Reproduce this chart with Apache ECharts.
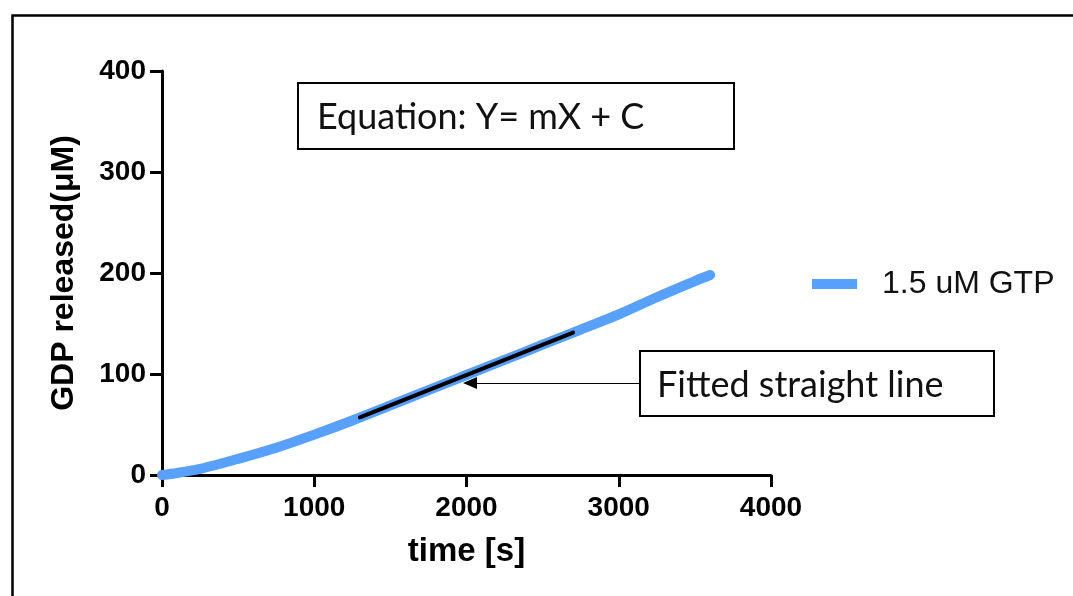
<!DOCTYPE html>
<html>
<head>
<meta charset="utf-8">
<title>GDP released</title>
<script src="https://cdn.jsdelivr.net/npm/echarts@6/dist/echarts.min.js"></script>
<style>
  html, body { margin: 0; padding: 0; background: #fff; }
  #main { width: 1073px; height: 596px; }
</style>
</head>
<body>
<div id="main"></div>
<script>
// time points [s] and GDP released [uM]
var times = [0, 100, 250, 500, 750, 1000, 1250, 1500, 1750, 2000, 2250, 2500, 2750, 3000, 3250, 3500, 3600];
var gdp = [0, 2, 6, 16, 27, 40, 54, 69, 84, 99, 114, 129, 144, 159, 176, 192, 198];
// fitted straight line end points
var fitX = [1300, 2700];
var fitY = [57, 141];
// arrow from the label box towards the fit
var arrowFrom = [3133, 91];
var arrowTo = [2023, 91];
var seriesName = "1.5 uM GTP";
var xTicks = { min: 0, max: 4000, step: 1000 };
var yTicks = { min: 0, max: 400, step: 100 };

var curve = [];
for (var i = 0; i < times.length; i++) {
  curve.push([times[i], gdp[i]]);
}
var fit = [[fitX[0], fitY[0]], [fitX[1], fitY[1]]];

var myChart = echarts.init(document.getElementById("main"));

var axisFont = { fontFamily: "Liberation Sans", fontWeight: "bold", fontSize: 28, color: "#000" };
var plain = function(v) { return String(v); };

var option = {
  animation: false,
  backgroundColor: "#fff",
  grid: {
    left: 162,
    right: 302,
    top: 71,
    bottom: 121,
    outerBoundsMode: "none"
  },
  legend: {
    left: 812,
    top: 268,
    padding: 0,
    icon: "rect",
    itemWidth: 45,
    itemHeight: 10,
    data: [seriesName],
    textStyle: {
      fontFamily: "Liberation Sans",
      fontSize: 32,
      color: "#111",
      padding: [0, 0, 0, 20]
    }
  },
  xAxis: {
    type: "value",
    min: xTicks.min,
    max: xTicks.max,
    interval: xTicks.step,
    name: "time [s]",
    nameLocation: "middle",
    nameGap: 60,
    nameTextStyle: { fontFamily: "Liberation Sans", fontWeight: "bold", fontSize: 33, color: "#000" },
    axisLine: { onZero: false, lineStyle: { color: "#000", width: 3 } },
    axisTick: { length: 12, lineStyle: { color: "#000", width: 3 } },
    axisLabel: Object.assign({ margin: 19, formatter: plain }, axisFont),
    splitLine: { show: false }
  },
  yAxis: {
    type: "value",
    min: yTicks.min,
    max: yTicks.max,
    interval: yTicks.step,
    name: "GDP released(μM)",
    nameLocation: "middle",
    nameGap: 82,
    nameTextStyle: { fontFamily: "Liberation Sans", fontWeight: "bold", fontSize: 32, color: "#000" },
    axisLine: { show: true, onZero: false, lineStyle: { color: "#000", width: 3 } },
    axisTick: { show: true, length: 12, lineStyle: { color: "#000", width: 3 } },
    axisLabel: Object.assign({ margin: 16, formatter: plain }, axisFont),
    splitLine: { show: false }
  },
  series: [
    {
      name: seriesName,
      type: "line",
      smooth: 0.3,
      showSymbol: false,
      data: curve,
      itemStyle: { color: "#57a0fb" },
      lineStyle: { color: "#57a0fb", width: 10, cap: "round" },
      z: 2,
      markLine: {
        silent: true,
        symbol: ["none", "triangle"],
        symbolSize: [12, 14],
        label: { show: false },
        lineStyle: { color: "#000", width: 1.2, type: "solid" },
        data: [[{ coord: arrowFrom }, { coord: arrowTo }]]
      }
    },
    {
      name: "fit",
      type: "line",
      showSymbol: false,
      data: fit,
      lineStyle: { color: "#000", width: 4, cap: "round" },
      z: 3
    }
  ],
  graphic: [
    {
      type: "rect",
      left: 10,
      top: 13,
      shape: { width: 1200, height: 700 },
      style: { fill: null, stroke: "#000", lineWidth: 2.5 },
      silent: true
    },
    {
      type: "group",
      left: 297,
      top: 82,
      children: [
        {
          type: "rect",
          shape: { x: 0, y: 0, width: 436, height: 66 },
          style: { fill: "#fff", stroke: "#000", lineWidth: 2 }
        },
        {
          type: "text",
          x: 19,
          y: 34,
          style: {
            text: "Equation: Y= mX + C",
            fontFamily: "Lato",
            fontSize: 36,
            fill: "#111",
            verticalAlign: "middle"
          }
        }
      ]
    },
    {
      type: "group",
      left: 639,
      top: 350,
      children: [
        {
          type: "rect",
          shape: { x: 0, y: 0, width: 354, height: 65 },
          style: { fill: "#fff", stroke: "#000", lineWidth: 2 }
        },
        {
          type: "text",
          x: 17,
          y: 34,
          style: {
            text: "Fitted straight line",
            fontFamily: "Lato",
            fontSize: 36,
            fill: "#111",
            verticalAlign: "middle"
          }
        }
      ]
    }
  ]
};
myChart.setOption(option);
</script>
</body>
</html>
